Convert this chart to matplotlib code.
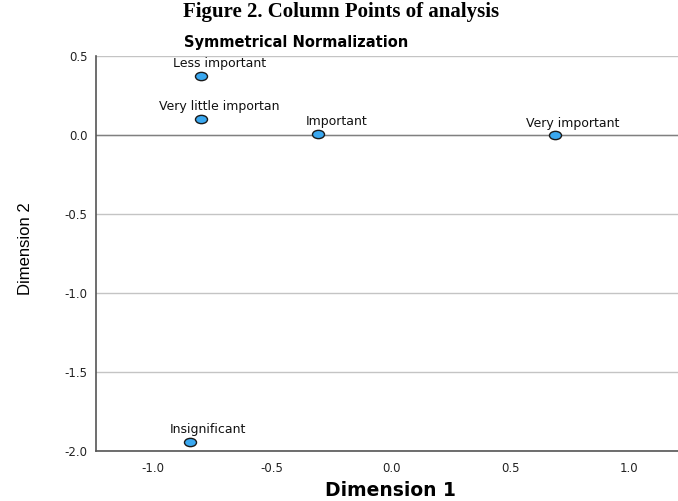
import numpy as np
from matplotlib import pyplot as plt
from matplotlib.path import Path
from matplotlib.transforms import Affine2D

# column points
labels = ["Less important", "Very little importan", "Important",
          "Very important", "Insignificant"]
dim1 = [-0.797, -0.797, -0.305, 0.689, -0.845]
dim2 = [0.375, 0.10, 0.005, -0.002, -1.944]

xticks = [-1.0, -0.5, 0.0, 0.5, 1.0]
yticks = [0.5, 0.0, -0.5, -1.0, -1.5, -2.0]

plt.rcParams['font.family'] = ['DejaVu Sans']

fig = plt.figure(figsize=(6.78, 5.01), dpi=100)
ax = fig.add_axes([96/678, 1 - 450.7/501, (678-96)/678, (450.7-56)/501])

# slightly wide ellipse marker like the SPSS output
oval = Path.unit_circle().transformed(Affine2D().scale(1.45, 1.0))
ax.scatter(dim1, dim2, s=75, marker=oval, c='#3aa8f0',
           edgecolors='#1a1a1a', linewidths=1.0, zorder=3)
for x, y, t in zip(dim1, dim2, labels):
    ax.annotate(t, (x, y), xytext=(13, 6.3), textcoords='offset points',
                ha='center', va='baseline', fontsize=9, color='#111111')

ax.set_xlim(-1.24, 1.206)
ax.set_ylim(-2.0, 0.5)
ax.set_xticks(xticks)
ax.set_yticks(yticks)
ax.set_xticklabels(["%.1f" % v for v in xticks])
ax.set_yticklabels(["%.1f" % v for v in yticks])
ax.tick_params(length=0, labelsize=8.5, colors='#222222')
ax.tick_params(axis='y', pad=6)
ax.tick_params(axis='x', pad=8)
ax.yaxis.grid(True, color='#c4c4c4', linewidth=1)
ax.set_axisbelow(True)
ax.axhline(0, color='#808080', linewidth=1, zorder=1)
for s in ['top', 'right']:
    ax.spines[s].set_visible(False)
for s in ['left', 'bottom']:
    ax.spines[s].set_color('#555555')
    ax.spines[s].set_linewidth(1.2)

ax.set_ylabel("Dimension 2", fontsize=12, family='Liberation Sans')
ax.yaxis.set_label_coords(-0.108, 0.513)
fig.text(390/678, 1 - 491/501, "Dimension 1", fontsize=13.5,
         fontweight='bold', ha='center', va='center')

fig.text(0.503, 0.996, "Figure 2. Column Points of analysis",
         family='Liberation Serif', fontweight='bold', fontsize=15,
         ha='center', va='top')
fig.text(296/678, 1 - 43/501, "Symmetrical Normalization", fontweight='bold',
         fontsize=10.5, ha='center', va='center')

plt.savefig('out.png')
